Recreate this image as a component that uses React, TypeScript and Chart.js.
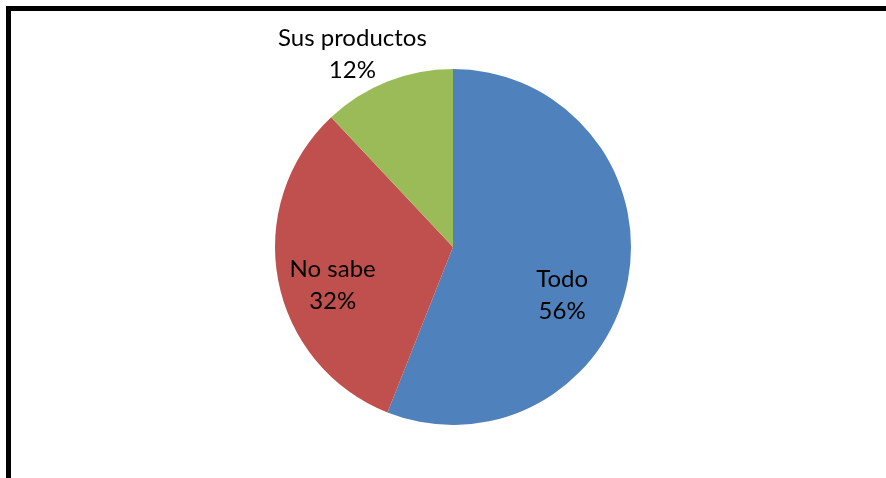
import React, { useEffect, useRef } from "react";
import { Chart, registerables } from "chart.js";

Chart.register(...registerables);

const categories = ["Todo", "No sabe", "Sus productos"];
const values = [56, 32, 12];
const colors = ["#4F81BD", "#C0504D", "#9BBB59"];
// label placement relative to each slice: radial factor and angle shift (degrees)
const labelRadius = [0.67, 0.71, 1.22];
const labelAngleShift = [13, -7, -6];

const labelPlugin = {
  id: "sliceLabels",
  afterDatasetsDraw(chart: any) {
    const { ctx } = chart;
    const meta = chart.getDatasetMeta(0);
    const total = values.reduce((a, b) => a + b, 0);
    ctx.save();
    ctx.font = "24px Lato";
    ctx.fillStyle = "#000";
    ctx.textAlign = "center";
    ctx.textBaseline = "middle";
    meta.data.forEach((arc: any, i: number) => {
      const p = arc.getProps(["x", "y", "startAngle", "endAngle", "outerRadius"], true);
      const mid = (p.startAngle + p.endAngle) / 2 + (labelAngleShift[i] * Math.PI) / 180;
      const r = p.outerRadius * labelRadius[i];
      const x = p.x + Math.cos(mid) * r;
      const y = p.y + Math.sin(mid) * r;
      const pct = Math.round((values[i] / total) * 100) + "%";
      ctx.fillText(categories[i], x, y - 16);
      ctx.fillText(pct, x, y + 16);
    });
    ctx.restore();
  },
};

const framePlugin = {
  id: "frame",
  afterDraw(chart: any) {
    const { ctx, width, height } = chart;
    ctx.save();
    ctx.strokeStyle = "#000";
    ctx.lineWidth = 5;
    ctx.beginPath();
    ctx.moveTo(8.5, height);
    ctx.lineTo(8.5, 8.5);
    ctx.lineTo(width, 8.5);
    ctx.stroke();
    ctx.restore();
  },
};

export default function App() {
  const ref = useRef<HTMLCanvasElement>(null);
  useEffect(() => {
    document.body.style.margin = "0";
    const chart = new Chart(ref.current!, {
      type: "pie",
      data: {
        labels: categories,
        datasets: [
          {
            data: values,
            backgroundColor: colors,
            borderWidth: 0,
          },
        ],
      },
      options: {
        animation: false,
        responsive: false,
        layout: { padding: { left: 20, right: 0, top: 69, bottom: 53 } },
        plugins: { legend: { display: false }, tooltip: { enabled: false } },
      },
      plugins: [labelPlugin, framePlugin],
    });
    return () => chart.destroy();
  }, []);
  return (
    <div style={{ width: 886, height: 478, background: "#fff" }}>
      <canvas ref={ref} width={886} height={478} />
    </div>
  );
}
